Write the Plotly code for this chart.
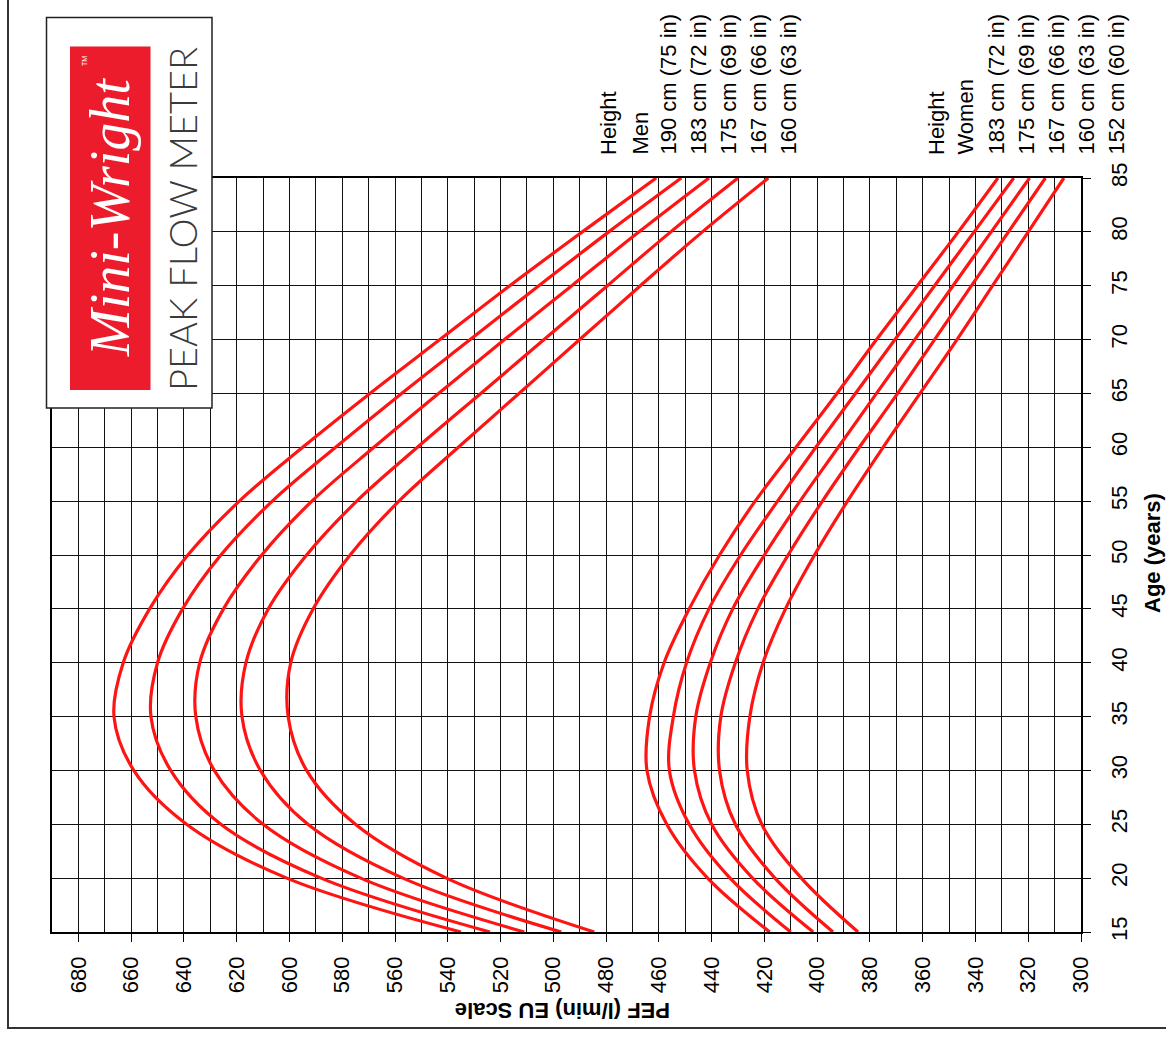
import plotly.graph_objects as go

# ---------------- data ----------------
AGES = [15, 20, 25, 30, 35, 40, 45, 50, 55, 60, 65, 70, 75, 80, 85]

MEN_HEIGHTS = ["190 cm (75 in)", "183 cm (72 in)", "175 cm (69 in)", "167 cm (66 in)", "160 cm (63 in)"]
WOMEN_HEIGHTS = ["183 cm (72 in)", "175 cm (69 in)", "167 cm (66 in)", "160 cm (63 in)", "152 cm (60 in)"]

men_190 = [535, 601, 639, 659, 666.5, 663, 653, 638.5, 619, 595, 569.5, 543, 516.5, 489, 461]
men_183 = [524, 588, 626, 645, 652.5, 650, 640.5, 626, 606.5, 582.5, 557.5, 531.5, 505.5, 479, 451.5]
men_175 = [511, 573, 610, 628.5, 635.5, 634, 625, 610.5, 591.5, 568, 543.5, 518.5, 493, 467.5, 441]
men_167 = [497, 557, 593, 611, 618, 616.5, 608, 593.5, 574.5, 551.5, 527.5, 503.5, 479.5, 455.5, 430]
men_160 = [484.5, 540.5, 575, 593.5, 600.5, 599.5, 591, 577, 558.5, 536, 513, 490, 467, 443.5, 418.5]

women_183 = [418, 441.5, 457, 464.5, 463.5, 458, 448.5, 437, 423.5, 408, 392.5, 377.5, 362, 346.5, 331.5]
women_175 = [410, 433, 448.5, 456, 454.5, 449.5, 441, 429, 415, 400.5, 385.5, 370.5, 355.5, 340.5, 325.5]
women_167 = [401.5, 424.5, 440, 446.5, 446, 440.5, 432, 420, 406.5, 392, 377.5, 363, 348.5, 334, 319.5]
women_160 = [394, 416, 431, 437, 436.5, 431, 422.5, 411, 398, 384, 369.5, 355.5, 341.5, 327.5, 313.5]
women_152 = [384.5, 406, 421, 426.5, 425.5, 420.5, 412, 401, 388.5, 375, 361, 347, 333.5, 320, 306.5]

PEF_TICKS = list(range(300, 681, 20))
AGE_TICKS = list(range(15, 86, 5))

# ---------------- layout geometry ----------------
W, H = 1166, 1039
L, R, T, B = 52, 1081, 178, 932
FONT = "Liberation Sans, Arial, sans-serif"
RED = "#FF1414"


def px(x):
    return (x - L) / (R - L)


def py(y):
    return (B - y) / (B - T)


fig = go.Figure()
for vals in [men_190, men_183, men_175, men_167, men_160,
             women_183, women_175, women_167, women_160, women_152]:
    fig.add_trace(go.Scatter(
        x=vals, y=AGES, mode="lines",
        line=dict(color=RED, width=3.2, shape="spline", smoothing=1.0),
        hoverinfo="skip", showlegend=False))

annotations = []
# height labels over the curves
men_cols = [("Height", 608), ("Men", 640)] + list(zip(MEN_HEIGHTS, [668, 698, 728, 758, 788]))
women_cols = [("Height", 936), ("Women", 965)] + list(zip(WOMEN_HEIGHTS, [996, 1026, 1056, 1086, 1116]))
for txt, xx in men_cols + women_cols:
    annotations.append(dict(text=txt, x=px(xx), y=py(156), xref="paper", yref="paper",
                            xanchor="center", yanchor="bottom", textangle=-90, showarrow=False,
                            font=dict(family=FONT, size=22, color="black"), borderpad=0))

# axis titles
annotations.append(dict(text="<b>PEF (l/min) EU Scale</b>", x=px(563), y=py(1011), xref="paper", yref="paper",
                        xanchor="center", yanchor="middle", textangle=180, showarrow=False,
                        font=dict(family=FONT, size=22, color="black")))
annotations.append(dict(text="<b>Age (years)</b>", x=px(1152), y=py(553), xref="paper", yref="paper",
                        xanchor="center", yanchor="middle", textangle=-90, showarrow=False,
                        font=dict(family=FONT, size=22, color="black")))

# logo texts
annotations.append(dict(text="<i>Mini-Wright</i>", x=px(110), y=py(218), xref="paper", yref="paper",
                        xanchor="center", yanchor="middle", textangle=-90, showarrow=False,
                        font=dict(family="Liberation Serif, DejaVu Serif, serif", size=56, color="white")))
annotations.append(dict(text="TM", x=px(84), y=py(61), xref="paper", yref="paper",
                        xanchor="center", yanchor="middle", textangle=-90, showarrow=False,
                        font=dict(family=FONT, size=7, color="white")))
annotations.append(dict(text="PEAK FLOW METER", x=px(182), y=py(219), xref="paper", yref="paper",
                        xanchor="center", yanchor="middle", textangle=-90, showarrow=False,
                        font=dict(family="Lato, Liberation Sans, sans-serif", size=38, color="#3a3a3a", weight=300)))

shapes = [
    # outer frame
    dict(type="rect", xref="paper", yref="paper", x0=px(8), x1=px(1185), y0=py(1028), y1=py(-20),
         line=dict(color="#333333", width=2), fillcolor="rgba(0,0,0,0)", layer="below"),
    # logo box
    dict(type="rect", xref="paper", yref="paper", x0=px(46.5), x1=px(212), y0=py(408), y1=py(17.5),
         line=dict(color="#222222", width=1.5), fillcolor="white", layer="above"),
    dict(type="rect", xref="paper", yref="paper", x0=px(70), x1=px(150.5), y0=py(390), y1=py(46.5),
         line=dict(width=0), fillcolor="#EC1C2C", layer="above"),
]

axis_font = dict(family=FONT, size=22, color="black")
fig.update_layout(
    width=W, height=H,
    margin=dict(l=L, r=W - R, t=T, b=H - B, pad=0),
    paper_bgcolor="white", plot_bgcolor="white",
    xaxis=dict(range=[690, 300], tickvals=PEF_TICKS, ticks="outside", ticklen=8, tickwidth=1.3,
               tickcolor="black", tickangle=-90, tickfont=axis_font, ticklabelstandoff=6,
               showgrid=True, gridcolor="#111111", gridwidth=1.2,
               minor=dict(dtick=10, tick0=300, showgrid=True, gridcolor="#111111", gridwidth=1.2, ticks=""),
               showline=True, linecolor="black", linewidth=1.5, mirror=True, zeroline=False),
    yaxis=dict(range=[15, 85], side="right", tickvals=AGE_TICKS, ticks="outside", ticklen=8, tickwidth=1.3,
               tickcolor="black", tickangle=-90, tickfont=axis_font, ticklabelstandoff=10,
               showgrid=True, gridcolor="#111111", gridwidth=1.2,
               showline=True, linecolor="black", linewidth=1.5, mirror=True, zeroline=False),
    annotations=annotations, shapes=shapes,
)

fig.write_html("out.html", config={"displayModeBar": False},
               post_script="document.body.style.margin='0';document.body.style.overflow='hidden';")
